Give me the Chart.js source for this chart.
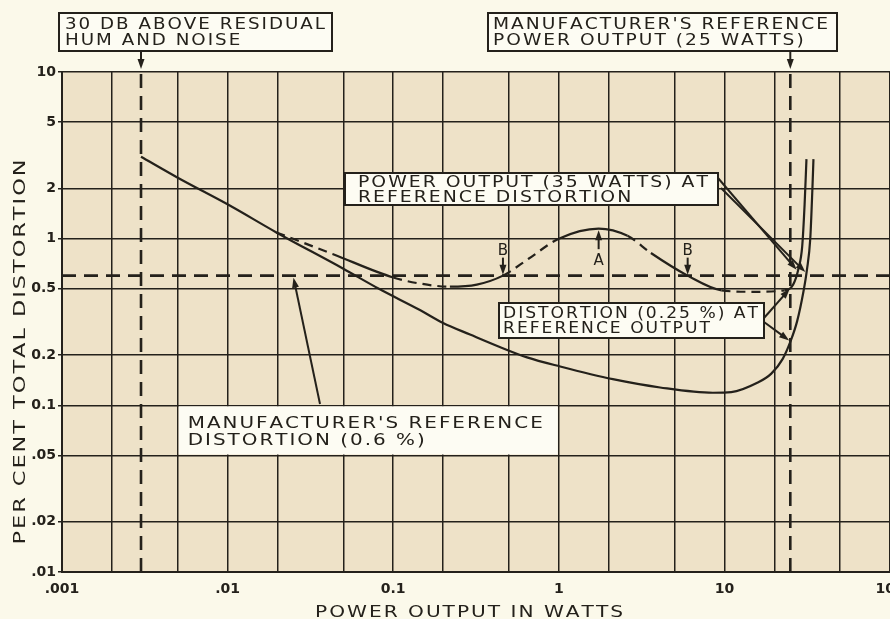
<!DOCTYPE html>
<html>
<head>
<meta charset="utf-8">
<script src="https://cdn.jsdelivr.net/npm/chart.js@4.4.0/dist/chart.umd.min.js"></script>
<style>
  html, body { margin: 0; padding: 0; background: #fbf9ea; }
</style>
</head>
<body>
<canvas id="distChart" width="890" height="619"></canvas>
<script>
// axis grid values and their labels (only decades labelled on x)
const xGridValues = [0.001, 0.002, 0.005, 0.01, 0.02, 0.05, 0.1, 0.2, 0.5, 1, 2, 5, 10, 20, 50, 100]
const xTickLabels = ['.001', '', '', '.01', '', '', '0.1', '', '', '1', '', '', '10', '', '', '100']
const yGridValues = [0.01, 0.02, 0.05, 0.1, 0.2, 0.5, 1, 2, 5, 10]
const yTickLabels = ['.01', '.02', '.05', '0.1', '0.2', '0.5', '1', '2', '5', '10']

// lower distortion curve (solid)
const lowerWatts = [0.003, 0.005, 0.0103, 0.0197, 0.05, 0.082, 0.145, 0.2, 0.291, 0.44, 0.643, 1.02, 2.12, 4.09, 8.53, 11, 15.9, 19.2, 22.5, 25, 27.5, 30, 31.5, 33, 34, 34.5]
const lowerDist = [3.1, 2.32, 1.58, 1.09, 0.66, 0.50, 0.373, 0.312, 0.266, 0.224, 0.194, 0.171, 0.1435, 0.128, 0.119, 0.12, 0.137, 0.155, 0.19, 0.24, 0.32, 0.48, 0.65, 1.0, 2.0, 3.0]

// upper distortion curve (partly dashed), branches off at ~0.02 W
const upperWatts = [0.0197, 0.043, 0.1, 0.15, 0.22, 0.32, 0.46, 0.66, 1.0, 1.74, 2.6, 3.6, 6.0, 9.6, 15, 23, 26, 28, 29.5, 30.5, 31.3]
const upperDist = [1.09, 0.81, 0.585, 0.535, 0.515, 0.53, 0.6, 0.76, 1.0, 1.15, 1.04, 0.82, 0.6, 0.49, 0.48, 0.49, 0.53, 0.66, 0.9, 1.6, 3.0]
const upperDashedSpans = [[0.0197, 0.043], [0.1, 0.22], [0.46, 1.0], [2.6, 3.6], [9.6, 23]]

// reference lines
const noiseLimitWatts = 0.003
const refPowerWatts = 25
const refDistortion = 0.6

const ink = '#24211b'
const pageBg = '#fbf9ea'
const plotBg = '#eee2c8'
const boxBg = '#fdfcf3'
const labelFont = '16px "DejaVu Sans"'
const letterGap = 2

function toPoints(xs, ys) {
  return xs.map((x, i) => ({ x: x, y: ys[i] }))
}

function arrow(ctx, x0, y0, x1, y1) {
  const ang = Math.atan2(y1 - y0, x1 - x0), len = 10, hw = 3.5
  ctx.beginPath()
  ctx.moveTo(x0, y0)
  ctx.lineTo(x1 - Math.cos(ang) * len * 0.6, y1 - Math.sin(ang) * len * 0.6)
  ctx.stroke()
  ctx.beginPath()
  ctx.moveTo(x1, y1)
  ctx.lineTo(x1 - len * Math.cos(ang) + hw * Math.sin(ang), y1 - len * Math.sin(ang) - hw * Math.cos(ang))
  ctx.lineTo(x1 - len * Math.cos(ang) - hw * Math.sin(ang), y1 - len * Math.sin(ang) + hw * Math.cos(ang))
  ctx.closePath()
  ctx.fill()
}

// the lettering in the original is wide, so stretch the text sideways to fit
function stretchFor(ctx, text, width) {
  const plain = [...text].reduce((s, c) => s + ctx.measureText(c).width, 0)
  return (width - letterGap * (text.length - 1)) / plain
}

function wideText(ctx, text, x, y, sf) {
  ctx.save()
  ctx.translate(x, y)
  ctx.scale(sf, 1)
  let cx = 0
  for (const c of text) {
    ctx.fillText(c, cx, 0)
    cx += ctx.measureText(c).width + letterGap / sf
  }
  ctx.restore()
}

const boxes = [
  { x: 59, y: 13, w: 273, h: 38, pad: 6, width: 260, base: [16, 32], lines: ['30 DB ABOVE RESIDUAL', 'HUM AND NOISE'] },
  { x: 488, y: 13, w: 349, h: 38, pad: 5, width: 335, base: [16, 32], lines: ["MANUFACTURER'S REFERENCE", 'POWER OUTPUT (25 WATTS)'] },
  { x: 345, y: 173, w: 373, h: 32, pad: 13, width: 350, base: [14, 29], lines: ['POWER OUTPUT (35 WATTS) AT', 'REFERENCE DISTORTION'] },
  { x: 499, y: 303, w: 265, h: 35, pad: 4, width: 255, base: [15, 30], lines: ['DISTORTION (0.25 %) AT', 'REFERENCE OUTPUT'] }
]

const plotBackground = {
  id: 'plotBackground',
  beforeDraw(chart) {
    const { ctx, chartArea: a } = chart
    ctx.save()
    ctx.fillStyle = pageBg
    ctx.fillRect(0, 0, chart.width, chart.height)
    ctx.fillStyle = plotBg
    ctx.fillRect(a.left, a.top, a.right - a.left, a.bottom - a.top)
    ctx.restore()
  }
}

const annotations = {
  id: 'annotations',
  afterDatasetsDraw(chart) {
    const { ctx, scales: { x, y }, chartArea: a } = chart
    ctx.save()
    ctx.font = labelFont
    ctx.fillStyle = ink
    ctx.strokeStyle = ink
    ctx.textBaseline = 'alphabetic'

    // reference distortion label: fills two grid cells, no border
    const bx0 = x.getPixelForValue(0.005) + 1, bx1 = x.getPixelForValue(1) - 1
    const by0 = y.getPixelForValue(0.1) + 1, by1 = y.getPixelForValue(0.05) - 1
    ctx.fillStyle = boxBg
    ctx.fillRect(bx0, by0, bx1 - bx0, by1 - by0)
    ctx.fillStyle = ink
    let sf = stretchFor(ctx, "MANUFACTURER'S REFERENCE", 355)
    wideText(ctx, "MANUFACTURER'S REFERENCE", bx0 + 9, by0 + 22, sf)
    wideText(ctx, 'DISTORTION (0.6 %)', bx0 + 9, by0 + 39, sf)

    // boxed labels
    boxes.forEach(b => {
      ctx.fillStyle = boxBg
      ctx.fillRect(b.x, b.y, b.w, b.h)
      ctx.lineWidth = 2
      ctx.strokeRect(b.x, b.y, b.w, b.h)
      ctx.fillStyle = ink
      const s = stretchFor(ctx, b.lines[0], b.width)
      b.lines.forEach((t, i) => wideText(ctx, t, b.x + b.pad, b.y + b.base[i], s))
    })

    ctx.lineWidth = 2
    // arrows from the top boxes down to the chart
    arrow(ctx, x.getPixelForValue(noiseLimitWatts), 51, x.getPixelForValue(noiseLimitWatts), a.top - 3)
    arrow(ctx, x.getPixelForValue(refPowerWatts), 51, x.getPixelForValue(refPowerWatts), a.top - 3)

    // 35 watts box arrows
    arrow(ctx, 718, 178, x.getPixelForValue(27.3), y.getPixelForValue(0.65))
    arrow(ctx, 721, 188, x.getPixelForValue(30.8), y.getPixelForValue(0.63))
    // 0.25 % box arrows
    arrow(ctx, 764, 318, x.getPixelForValue(24.8), y.getPixelForValue(0.5))
    arrow(ctx, 764, 322, x.getPixelForValue(24.6), y.getPixelForValue(0.245))
    // reference distortion arrow
    arrow(ctx, 320, 404, x.getPixelForValue(0.025), y.getPixelForValue(refDistortion) + 2)

    // B and A markers
    ctx.font = '15px "DejaVu Sans"'
    ctx.textAlign = 'center'
    ;[0.46, 6.0].forEach(w => {
      const px = x.getPixelForValue(w), py = y.getPixelForValue(refDistortion)
      arrow(ctx, px, py - 18, px, py - 1)
      ctx.fillText('B', px, py - 21)
    })
    const ax = x.getPixelForValue(1.74), ay = y.getPixelForValue(1.14)
    arrow(ctx, ax, ay + 20, ax, ay + 1)
    ctx.fillText('A', ax, ay + 36)

    // axis titles
    ctx.font = labelFont
    ctx.textAlign = 'left'
    const xt = 'POWER OUTPUT IN WATTS'
    sf = stretchFor(ctx, xt, 308)
    wideText(ctx, xt, 469 - 154, 617, sf)
    const yt = 'PER CENT TOTAL DISTORTION'
    sf = stretchFor(ctx, yt, 385)
    ctx.translate(25, 352)
    ctx.rotate(-Math.PI / 2)
    wideText(ctx, yt, -192.5, 0, sf)
    ctx.restore()
  }
}

function isDashed(seg) {
  const w0 = upperWatts[seg.p0DataIndex], w1 = upperWatts[seg.p1DataIndex]
  return upperDashedSpans.some(s => w0 >= s[0] && w1 <= s[1])
}

const refLine = {
  borderColor: ink,
  borderWidth: 2.6,
  borderDash: [14, 8],
  pointRadius: 0,
  showLine: true
}

new Chart(document.getElementById('distChart'), {
  type: 'scatter',
  data: {
    datasets: [
      {
        label: 'lower',
        data: toPoints(lowerWatts, lowerDist),
        borderColor: ink,
        borderWidth: 2.2,
        pointRadius: 0,
        showLine: true,
        cubicInterpolationMode: 'monotone'
      },
      {
        label: 'upper',
        data: toPoints(upperWatts, upperDist),
        borderColor: ink,
        borderWidth: 2.2,
        pointRadius: 0,
        showLine: true,
        cubicInterpolationMode: 'monotone',
        segment: { borderDash: seg => isDashed(seg) ? [9, 6] : undefined }
      },
      { label: 'noise', data: [{ x: noiseLimitWatts, y: 0.01 }, { x: noiseLimitWatts, y: 10 }], ...refLine },
      { label: 'refPower', data: [{ x: refPowerWatts, y: 0.01 }, { x: refPowerWatts, y: 10 }], ...refLine },
      { label: 'refDist', data: [{ x: 0.001, y: refDistortion }, { x: 100, y: refDistortion }], ...refLine }
    ]
  },
  options: {
    responsive: false,
    animation: false,
    layout: { padding: { top: 72, left: 0, right: 0, bottom: 0 } },
    plugins: { legend: { display: false }, tooltip: { enabled: false } },
    scales: {
      x: {
        type: 'logarithmic',
        min: 0.001,
        max: 100,
        afterBuildTicks: s => { s.ticks = xGridValues.map(v => ({ value: v })) },
        afterFit: s => { s.height = 47; s.paddingLeft = 0; s.paddingRight = 0 },
        ticks: {
          autoSkip: false,
          maxRotation: 0,
          padding: 9,
          color: ink,
          font: { family: 'DejaVu Sans', size: 14, weight: 'bold' },
          callback: (v, i) => xTickLabels[i]
        },
        grid: { color: ink, lineWidth: 1.5, drawTicks: false },
        border: { color: ink, width: 2 }
      },
      y: {
        type: 'logarithmic',
        min: 0.01,
        max: 10,
        afterBuildTicks: s => { s.ticks = yGridValues.map(v => ({ value: v })) },
        afterFit: s => { s.width = 62 },
        ticks: {
          autoSkip: false,
          padding: 2,
          color: ink,
          font: { family: 'DejaVu Sans', size: 14, weight: 'bold' },
          callback: (v, i) => yTickLabels[i]
        },
        grid: { color: ink, lineWidth: 1.5, tickLength: 4 },
        border: { color: ink, width: 2 }
      }
    }
  },
  plugins: [plotBackground, annotations]
})
</script>
</body>
</html>
